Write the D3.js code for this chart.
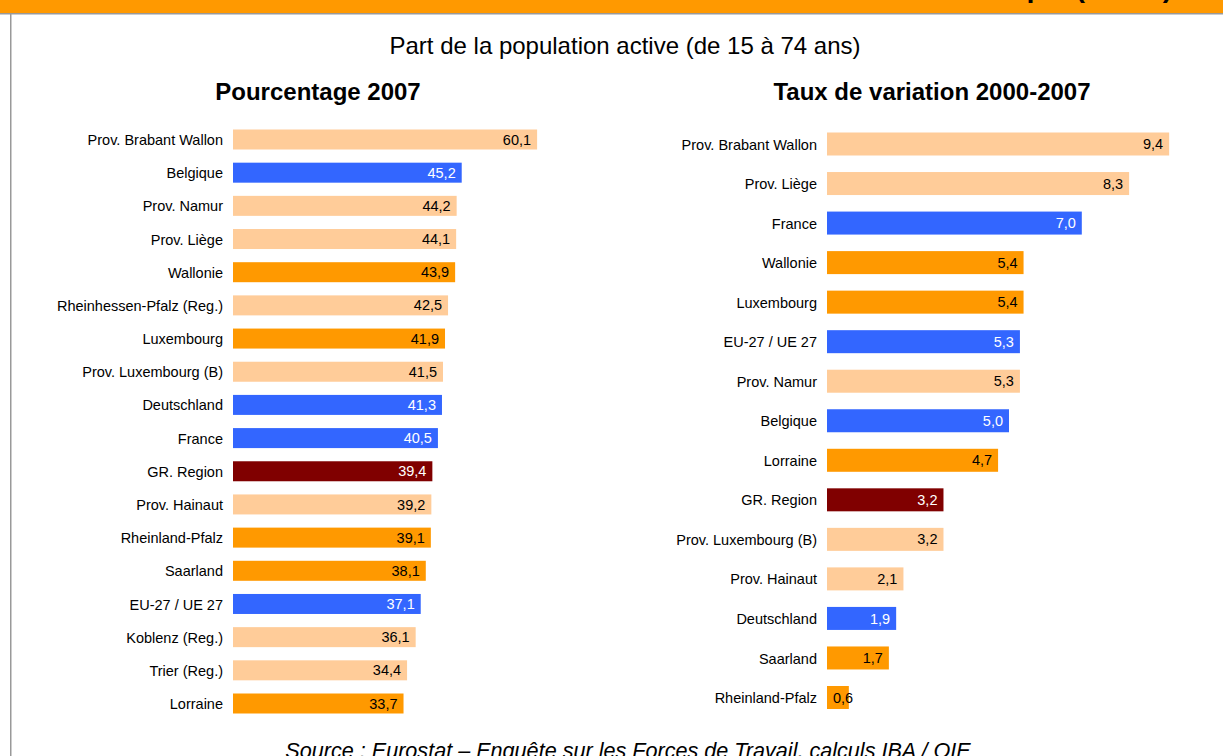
<!DOCTYPE html>
<html><head><meta charset="utf-8">
<script src="https://cdn.jsdelivr.net/npm/d3@7"></script>
<style>html,body{margin:0;padding:0;background:#fff;overflow:hidden}svg{display:block;font-family:Arial,"Liberation Sans",sans-serif}</style>
</head><body>
<svg id="c" width="1223" height="756"></svg>
<script>
const leftCategories = ["Prov. Brabant Wallon","Belgique","Prov. Namur","Prov. Liège","Wallonie","Rheinhessen-Pfalz (Reg.)","Luxembourg","Prov. Luxembourg (B)","Deutschland","France","GR. Region","Prov. Hainaut","Rheinland-Pfalz","Saarland","EU-27 / UE 27","Koblenz (Reg.)","Trier (Reg.)","Lorraine"];
const leftValues = [60.1,45.2,44.2,44.1,43.9,42.5,41.9,41.5,41.3,40.5,39.4,39.2,39.1,38.1,37.1,36.1,34.4,33.7];
const leftTypes = ["prov","nat","prov","prov","reg","prov","reg","prov","nat","nat","gr","prov","reg","reg","nat","prov","prov","reg"];

const rightCategories = ["Prov. Brabant Wallon","Prov. Liège","France","Wallonie","Luxembourg","EU-27 / UE 27","Prov. Namur","Belgique","Lorraine","GR. Region","Prov. Luxembourg (B)","Prov. Hainaut","Deutschland","Saarland","Rheinland-Pfalz"];
const rightValues = [9.4,8.3,7.0,5.4,5.4,5.3,5.3,5.0,4.7,3.2,3.2,2.1,1.9,1.7,0.6];
const rightTypes = ["prov","prov","nat","reg","reg","nat","prov","nat","reg","gr","prov","prov","nat","reg","reg"];

const colors = {prov:"#FFCC99", reg:"#FF9900", nat:"#3366FF", gr:"#800000"};
const textColors = {prov:"#000", reg:"#000", nat:"#fff", gr:"#fff"};

const svg = d3.select("#c");
// frame
svg.append("rect").attr("x",0).attr("y",0).attr("width",1223).attr("height",13).attr("fill","#FF9900");
svg.append("text").attr("x",636).attr("y",-3).attr("text-anchor","middle")
  .attr("font-size",28.5).attr("font-weight","bold").attr("fill","#000")
  .text("Ressources humaines dans le domaine de la science et de la technique (RHST)");
svg.append("rect").attr("x",0).attr("y",13).attr("width",1223).attr("height",1.5).attr("fill","#999");
svg.append("rect").attr("x",10).attr("y",13).attr("width",1.5).attr("height",743).attr("fill","#999");

svg.append("text").attr("x",625).attr("y",54).attr("text-anchor","middle").attr("font-size",24).text("Part de la population active (de 15 à 74 ans)");
svg.append("text").attr("x",318).attr("y",100).attr("text-anchor","middle").attr("font-size",24).attr("font-weight","bold").text("Pourcentage 2007");
svg.append("text").attr("x",932).attr("y",100).attr("text-anchor","middle").attr("font-size",24).attr("font-weight","bold").text("Taux de variation 2000-2007");
svg.append("text").attr("x",628).attr("y",758).attr("text-anchor","middle").attr("font-size",21.6).attr("font-style","italic").text("Source : Eurostat – Enquête sur les Forces de Travail, calculs IBA / OIE");

function panel(cats, vals, types, x0, pxPerUnit, maxV, yTop, yBottom, barH) {
  const x = d3.scaleLinear().domain([0, maxV]).range([x0, x0 + pxPerUnit*maxV]);
  const y = d3.scalePoint().domain(cats).range([yTop, yBottom]);
  const g = svg.append("g");
  const axis = d3.axisLeft(y).tickSize(0).tickPadding(10);
  const ag = g.append("g").attr("transform",`translate(${x0},0)`).call(axis);
  ag.select(".domain").remove();
  ag.selectAll("text").attr("font-size",14.5).attr("font-family","Arial, 'Liberation Sans', sans-serif").attr("fill","#000").attr("dy","0.35em");
  const data = cats.map((c,i)=>({c, v:vals[i], t:types[i]}));
  g.selectAll("rect.bar").data(data).join("rect").attr("class","bar")
    .attr("x", x(0)).attr("y", d=>y(d.c)-barH/2)
    .attr("width", d=>x(d.v)-x(0)).attr("height", barH)
    .attr("fill", d=>colors[d.t]);
  g.selectAll("text.val").data(data).join("text").attr("class","val")
    .attr("font-size",14.5).attr("fill", d=>textColors[d.t])
    .attr("y", d=>y(d.c)).attr("dy","0.35em")
    .text(d=>d3.format(".1f")(d.v).replace(".",","))
    .each(function(d){
      const w = this.getComputedTextLength();
      const xe = Math.max(x(d.v)-6, x(0)+6+w);
      d3.select(this).attr("x", xe).attr("text-anchor","end");
    });
}
panel(leftCategories, leftValues, leftTypes, 233, 5.06, 60.1, 139.5, 703.5, 20);
panel(rightCategories, rightValues, rightTypes, 827, 36.4, 9.4, 144, 697.5, 23);
</script>
</body></html>
